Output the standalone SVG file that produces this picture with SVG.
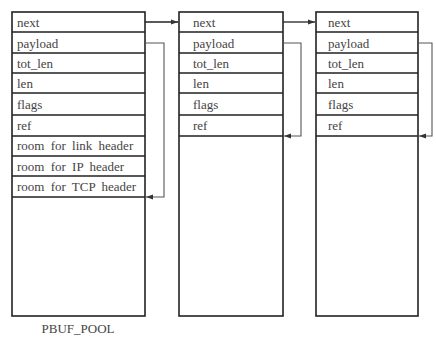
<svg xmlns="http://www.w3.org/2000/svg" width="436" height="339" viewBox="0 0 436 339">
<style>
.box{fill:#fff;stroke:#222;stroke-width:1.6}
.sep{stroke:#222;stroke-width:1.5}
.t{font-family:"Liberation Serif","Times New Roman",serif;font-size:13px;fill:#444;word-spacing:3px}
.nx{fill:none;stroke:#222;stroke-width:1.3}
.pl{fill:none;stroke:#555;stroke-width:1.1}
</style>
<defs>
<marker id="ah" markerWidth="8" markerHeight="6" refX="7" refY="3" orient="auto" markerUnits="userSpaceOnUse">
<path d="M0,0.5 L7,3 L0,5.5 Z" fill="#333"/>
</marker>
</defs>
<rect width="436" height="339" fill="#fff"/>
<g id="pbuf1">
<rect class="box" x="12" y="12" width="133" height="304"/>
<path class="sep" d="M12,32H145M12,53H145M12,73H145M12,93H145M12,115H145M12,136H145M12,156H145M12,176H145M12,197H145"/>
<text class="t" x="17" y="27">next</text>
<text class="t" x="17" y="48">payload</text>
<text class="t" x="17" y="68">tot_len</text>
<text class="t" x="17" y="88">len</text>
<text class="t" x="17" y="109">flags</text>
<text class="t" x="17" y="130">ref</text>
<text class="t" x="17" y="150">room for link header</text>
<text class="t" x="17" y="171">room for IP header</text>
<text class="t" x="17" y="191">room for TCP header</text>
</g>
<g id="pbuf2">
<rect class="box" x="179" y="12" width="104" height="304"/>
<path class="sep" d="M179,32H283M179,53H283M179,73H283M179,93H283M179,115H283M179,136H283"/>
<text class="t" x="193" y="27">next</text>
<text class="t" x="193" y="48">payload</text>
<text class="t" x="193" y="68">tot_len</text>
<text class="t" x="193" y="88">len</text>
<text class="t" x="193" y="109">flags</text>
<text class="t" x="193" y="130">ref</text>
</g>
<g id="pbuf3">
<rect class="box" x="316" y="12" width="102" height="304"/>
<path class="sep" d="M316,32H418M316,53H418M316,73H418M316,93H418M316,115H418M316,136H418"/>
<text class="t" x="328" y="27">next</text>
<text class="t" x="328" y="48">payload</text>
<text class="t" x="328" y="68">tot_len</text>
<text class="t" x="328" y="88">len</text>
<text class="t" x="328" y="109">flags</text>
<text class="t" x="328" y="130">ref</text>
</g>
<g id="label">
<text class="t" x="78" y="333" text-anchor="middle">PBUF_POOL</text>
</g>
<g id="connectors">
<path class="nx" d="M145,22H178" marker-end="url(#ah)"/>
<path class="nx" d="M283,22H315" marker-end="url(#ah)"/>
<path class="pl" d="M145,43H164V197H146" marker-end="url(#ah)"/>
<path class="pl" d="M283,43H301V136H284" marker-end="url(#ah)"/>
<path class="pl" d="M418,43H432V136H419" marker-end="url(#ah)"/>
</g>
</svg>
